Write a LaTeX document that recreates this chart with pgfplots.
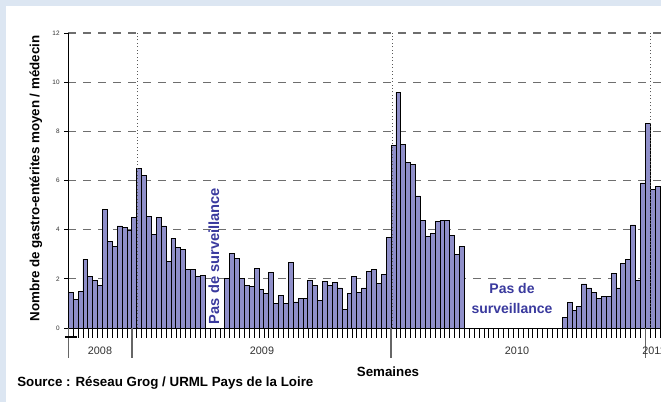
\documentclass[border=0pt]{standalone}
\usepackage{pgfplots}
\pgfplotsset{compat=1.18}
\usepackage{fontspec}
\setmainfont{Liberation Sans}
\definecolor{bgblue}{RGB}{220,230,242}
\definecolor{barcol}{RGB}{143,143,201}
\definecolor{pasblue}{RGB}{58,58,158}
\definecolor{gridgray}{RGB}{110,110,110}
\definecolor{txtgray}{RGB}{50,50,50}
\begin{document}
\begin{tikzpicture}
\fill[bgblue] (0,0) rectangle (495.75pt,301.5pt);
\fill[white] (4.5pt,0) rectangle (495.75pt,297pt);
\begin{axis}[
  at={(51.225pt,55.5pt)}, anchor=south west,
  scale only axis,
  width=446.3pt, height=221.25pt,
  xmin=-0.5, xmax=121.2,
  ymin=0, ymax=12,
  axis x line*=bottom, axis y line*=left,
  axis line style={black, line width=0.6pt, -},
  ytick={2,4,...,12},
  extra y ticks={0},
  extra y tick style={ymajorgrids=false},
  yticklabel style={font=\fontsize{4.8}{5}\selectfont, text=txtgray},
  /pgf/number format/assume math mode=true,
  ymajorgrids,
  grid style={gridgray, dash pattern=on 6pt off 5.25pt, line width=0.8pt},
  xtick={-0.5,0.5,...,120.5}, xticklabels={},
  tick align=outside,
  major tick length=3pt,
  xtick style={black, line width=0.5pt, /pgfplots/major tick length=7.5pt},
  ytick style={black, line width=0.5pt},
  clip=false,
]
\addplot[ybar, bar width=1, fill=barcol, draw=black, line width=0.6pt] table[row sep=\\] {
x y\\
0 1.44\\ 1 1.15\\ 2 1.49\\ 3 2.79\\ 4 2.08\\ 5 1.93\\ 6 1.74\\ 7 4.84\\ 8 3.52\\ 9 3.32\\ 10 4.15\\ 11 4.10\\ 12 3.96\\
13 4.49\\ 14 6.49\\ 15 6.19\\ 16 4.55\\ 17 3.81\\ 18 4.49\\ 19 4.15\\ 20 2.71\\ 21 3.66\\ 22 3.27\\ 23 3.18\\ 24 2.37\\ 25 2.37\\ 26 2.08\\ 27 2.12\\
32 2.00\\ 33 3.05\\ 34 2.84\\ 35 2.00\\ 36 1.74\\ 37 1.70\\ 38 2.44\\ 39 1.56\\ 40 1.41\\ 41 2.26\\
42 1.01\\ 43 1.31\\ 44 1.01\\ 45 2.65\\ 46 1.06\\ 47 1.20\\ 48 1.20\\ 49 1.93\\ 50 1.74\\ 51 1.12\\
52 1.89\\ 53 1.74\\ 54 1.85\\ 55 1.63\\ 56 0.77\\ 57 1.41\\ 58 2.08\\ 59 1.46\\ 60 1.63\\ 61 2.30\\
62 2.39\\ 63 1.81\\ 64 2.19\\ 65 3.67\\
66 7.43\\ 67 9.58\\ 68 7.47\\ 69 6.75\\ 70 6.65\\ 71 5.37\\ 72 4.37\\ 73 3.71\\ 74 3.86\\ 75 4.33\\ 76 4.37\\ 77 4.37\\ 78 3.78\\ 79 2.99\\ 80 3.33\\
101 0.42\\ 102 1.05\\ 103 0.70\\ 104 0.89\\ 105 1.79\\ 106 1.63\\ 107 1.44\\ 108 1.19\\ 109 1.30\\ 110 1.30\\
111 2.23\\ 112 1.63\\ 113 2.63\\ 114 2.78\\ 115 4.19\\ 116 1.95\\ 117 5.90\\ 118 8.32\\ 119 5.63\\ 120 5.77\\
};
\draw[dotted, gray!70!black, line width=0.6pt] (axis cs:13.55,0) -- (axis cs:13.55,12);
\draw[dotted, gray!70!black, line width=0.6pt] (axis cs:65.84,0) -- (axis cs:65.84,12);
\draw[dotted, gray!70!black, line width=0.6pt] (axis cs:118.46,0) -- (axis cs:118.46,12);
\draw[gray!80!black, line width=1pt] (axis cs:-0.5,0) -- ([yshift=-22.5pt]axis cs:-0.5,0);
\draw[gray!80!black, line width=1pt] (axis cs:12.5,0) -- ([yshift=-22.5pt]axis cs:12.5,0);
\draw[gray!80!black, line width=1pt] (axis cs:65.5,0) -- ([yshift=-22.5pt]axis cs:65.5,0);
\draw[gray!80!black, line width=1pt] (axis cs:117.5,0) -- ([yshift=-22.5pt]axis cs:117.5,0);
\draw[black, line width=2.2pt] ([xshift=-2.5pt,yshift=-6.75pt]axis cs:-0.5,0) -- ([xshift=6.5pt,yshift=-6.75pt]axis cs:-0.5,0);
\end{axis}
\node[rotate=90, font=\bfseries\fontsize{10}{12}\selectfont] at (27pt,167.6pt) {Nombre de gastro-entérites moyen / médecin};
\node[font=\bfseries\fontsize{10}{12}\selectfont] at (291pt,22.5pt) {Semaines};
\node[anchor=west, inner sep=0pt, font=\bfseries\fontsize{10}{12}\selectfont] at (12.75pt,14.25pt) {Source : Réseau Grog / URML Pays de la Loire};
\node[font=\fontsize{8.1}{10}\selectfont, text=txtgray] at (75pt,38.25pt) {2008};
\node[font=\fontsize{8.1}{10}\selectfont, text=txtgray] at (196.5pt,38.25pt) {2009};
\node[font=\fontsize{8.1}{10}\selectfont, text=txtgray] at (387.75pt,38.25pt) {2010};
\node[font=\fontsize{8.1}{10}\selectfont, text=txtgray] at (490.5pt,38.25pt) {2011};
\node[rotate=90, text=pasblue, font=\bfseries\fontsize{11}{13}\selectfont] at (160.5pt,109.5pt) {Pas de surveillance};
\node[text=pasblue, align=center, font=\bfseries\fontsize{10.5}{15}\selectfont] at (384pt,77.25pt) {Pas de\\surveillance};
\pgfresetboundingbox
\useasboundingbox (0,0) rectangle (495.75pt,301.5pt);
\end{tikzpicture}
\end{document}
